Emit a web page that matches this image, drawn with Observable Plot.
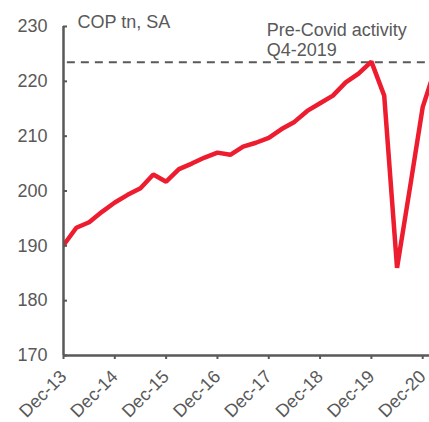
<!DOCTYPE html>
<html>
<head>
<meta charset="utf-8">
<script src="https://cdn.jsdelivr.net/npm/d3@7"></script>
<script src="https://cdn.jsdelivr.net/npm/@observablehq/plot@0.6"></script>
<style>
  html, body { margin: 0; padding: 0; background: #fff; }
  #chart svg { display: block; }
</style>
</head>
<body>
<div id="chart"></div>
<script>
// Quarterly GDP activity, COP trillion, seasonally adjusted
const quarters = ["Dec-13","Mar-14","Jun-14","Sep-14","Dec-14","Mar-15","Jun-15","Sep-15","Dec-15","Mar-16","Jun-16","Sep-16","Dec-16","Mar-17","Jun-17","Sep-17","Dec-17","Mar-18","Jun-18","Sep-18","Dec-18","Mar-19","Jun-19","Sep-19","Dec-19","Mar-20","Jun-20","Sep-20","Dec-20","Mar-21"];
const values = [190.1,193.3,194.3,196.2,197.9,199.3,200.5,203.0,201.7,204.0,205.0,206.1,207.0,206.6,208.1,208.8,209.7,211.3,212.6,214.6,216.0,217.4,219.8,221.4,223.6,217.4,186.0,200.5,215.3,222.5];
const tickLabels = ["Dec-13","Dec-14","Dec-15","Dec-16","Dec-17","Dec-18","Dec-19","Dec-20"];
const yTicks = [170,180,190,200,210,220,230];
const preCovidLevel = 223.5;
const unitLabel = "COP tn, SA";
const annotation = "Pre-Covid activity\nQ4-2019";

const data = quarters.map((q, i) => ({i, q, v: values[i]}));
const xTicks = tickLabels.map(l => quarters.indexOf(l));

const gray = "#595959";
const red = "#ED1C2E";
const font = "Liberation Sans, Arial, sans-serif";

const chart = Plot.plot({
  width: 429,
  height: 422,
  marginLeft: 63,
  marginRight: 0,
  marginTop: 26,
  marginBottom: 67,
  style: {fontFamily: font, fontSize: "18px", color: gray, background: "#fff"},
  x: {domain: [0, 28.53], type: "linear"},
  y: {domain: [170, 230]},
  marks: [
    Plot.ruleY([preCovidLevel], {stroke: gray, strokeWidth: 2, strokeDasharray: "8,6", x1: 0.3, x2: 28.53}),
    Plot.line(data, {x: "i", y: "v", stroke: red, strokeWidth: 4.5, strokeLinejoin: "miter", clip: true}),
    Plot.axisY({ticks: yTicks, tickSize: -4, tickPadding: 20, stroke: gray, strokeWidth: 2, fill: gray, fontSize: 18, label: null}),
    Plot.axisX({ticks: xTicks, tickFormat: i => quarters[i], tickRotate: -45, tickSize: 4, tickPadding: 14, stroke: gray, strokeWidth: 2, fill: gray, fontSize: 18, label: null}),
    Plot.ruleX([0], {stroke: gray, strokeWidth: 2.5}),
    Plot.ruleY([170], {stroke: gray, strokeWidth: 2.5}),
    Plot.text([unitLabel], {frameAnchor: "top-left", dx: 14, dy: 1, lineAnchor: "bottom", textAnchor: "start", fill: gray, fontSize: 18}),
    Plot.text([annotation], {x: 15.85, y: preCovidLevel, dy: -6, lineAnchor: "bottom", textAnchor: "start", fill: gray, fontSize: 18, lineHeight: 1.12})
  ]
});
document.getElementById("chart").append(chart);
</script>
</body>
</html>
